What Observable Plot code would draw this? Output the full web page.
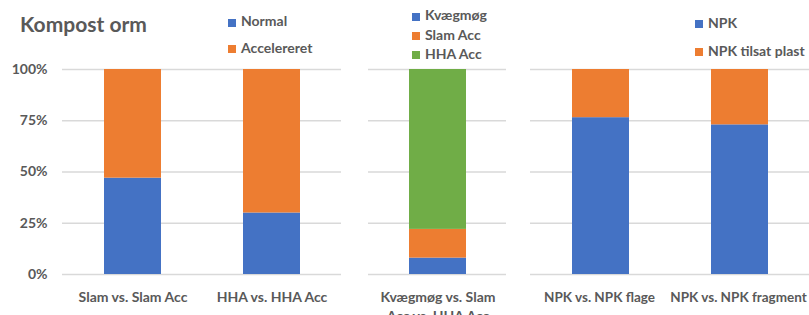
<!DOCTYPE html>
<html>
<head>
<meta charset="utf-8">
<script src="https://cdn.jsdelivr.net/npm/d3@7"></script>
<script src="https://cdn.jsdelivr.net/npm/@observablehq/plot@0.6"></script>
<style>
  html, body { margin: 0; padding: 0; background: #fff; overflow: hidden; }
  #wrap { position: relative; width: 809px; height: 315px; font-family: Lato, "Open Sans", sans-serif; font-weight: bold; color: #595959; }
  .panel { position: absolute; top: 0; }
  .title { position: absolute; font-size: 21px; line-height: 21px; white-space: nowrap; }
  .sw { position: absolute; width: 8px; height: 8px; }
  .lt { position: absolute; font-size: 14px; line-height: 14px; white-space: nowrap; }
</style>
</head>
<body>
<div id="wrap"></div>
<script>
// ---- data ----
const titleText = "Kompost orm";

const groupsA = ["Slam vs. Slam Acc", "HHA vs. HHA Acc"];
const seriesA = ["Normal", "Accelereret"];
const normalA = [0.47, 0.30];
const accelerertA = [0.53, 0.70];

const groupsB = ["Kvægmøg vs. Slam Acc vs. HHA Acc"];
const tickLabelsB = ["Kvægmøg vs. Slam\nAcc vs. HHA Acc"];
const seriesB = ["Kvægmøg", "Slam Acc", "HHA Acc"];
const kvaegmoegB = [0.08];
const slamAccB = [0.14];
const hhaAccB = [0.78];

const groupsC = ["NPK vs. NPK flage", "NPK vs. NPK fragment"];
const seriesC = ["NPK", "NPK tilsat plast"];
const npkC = [0.765, 0.73];
const plastC = [0.235, 0.27];

const yTicks = [0, 0.25, 0.5, 0.75, 1];
const colorsA = ["#4472C4", "#ED7D31"];
const colorsB = ["#4472C4", "#ED7D31", "#70AD47"];
const colorsC = ["#4472C4", "#ED7D31"];

// ---- build tables ----
function table(groups, series, valueArrays) {
  const rows = [];
  series.forEach((s, si) => groups.forEach((g, gi) => rows.push({group: g, series: s, value: valueArrays[si][gi]})));
  return rows;
}
const dataA = table(groupsA, seriesA, [normalA, accelerertA]);
const dataB = table(groupsB, seriesB, [kvaegmoegB, slamAccB, hhaAccB]);
const dataC = table(groupsC, seriesC, [npkC, plastC]);

const wrap = document.getElementById("wrap");
const GRID = "#d9d9d9";
const TEXT = "#595959";

function panel({left, width, marginLeft, groups, series, colors, data, showY, tickFormat, xFontSize = 14, xDx = 0}) {
  const chart = Plot.plot({
    width, height: 315,
    marginLeft, marginRight: 0, marginTop: 69, marginBottom: 41,
    style: {fontFamily: 'Lato, "Open Sans", sans-serif', fontSize: "14px", fontWeight: "bold", color: TEXT, background: "transparent", overflow: "visible"},
    x: {domain: groups, paddingInner: 0.59, paddingOuter: 0.295, label: null},
    y: {domain: [0, 1], label: null, axis: showY ? undefined : null},
    color: {domain: series, range: colors},
    marks: [
      Plot.gridY(yTicks, {stroke: GRID, strokeOpacity: 1, strokeWidth: 1.5}),
      Plot.barY(data, {x: "group", y: "value", fill: "series"}),
      showY ? Plot.axisY(yTicks, {tickFormat: d => Math.round(d * 100) + "%", tickSize: 0, tickPadding: 15, label: null, fill: TEXT}) : null,
      Plot.axisX({tickSize: 0, tickPadding: 15, label: null, fill: TEXT, lineHeight: 1.3, tickFormat, fontSize: xFontSize, dx: xDx})
    ]
  });
  chart.classList.add("panel");
  chart.style.left = left + "px";
  wrap.appendChild(chart);
}

panel({left: 0, width: 341, marginLeft: 62, groups: groupsA, series: seriesA, colors: colorsA, data: dataA, showY: true});
panel({left: 341, width: 165, marginLeft: 27, groups: groupsB, series: seriesB, colors: colorsB, data: dataB, showY: false,
       tickFormat: d => tickLabelsB[groupsB.indexOf(d)]});
panel({left: 506, width: 303, marginLeft: 24, groups: groupsC, series: seriesC, colors: colorsC, data: dataC, showY: false,
       xFontSize: 13.5, xDx: -1.5});

// ---- title ----
const t = document.createElement("div");
t.className = "title";
t.textContent = titleText;
t.style.left = "20px";
t.style.top = "13px";
wrap.appendChild(t);

// ---- legends (layout positions) ----
function legend(series, colors, x, baselines) {
  series.forEach((s, i) => {
    const sw = document.createElement("div");
    sw.className = "sw";
    sw.style.background = colors[i];
    sw.style.left = x + "px";
    sw.style.top = (baselines[i] - 8) + "px";
    wrap.appendChild(sw);
    const tx = document.createElement("div");
    tx.className = "lt";
    tx.textContent = s;
    tx.style.left = (x + 13) + "px";
    tx.style.top = (baselines[i] - 12.4) + "px";
    wrap.appendChild(tx);
  });
}
legend(seriesA, colorsA, 228, [26.7, 53.3]);
legend(seriesB, colorsB, 412, [20.5, 40, 59]);
legend(seriesC, colorsC, 695, [28.3, 56]);
</script>
</body>
</html>
